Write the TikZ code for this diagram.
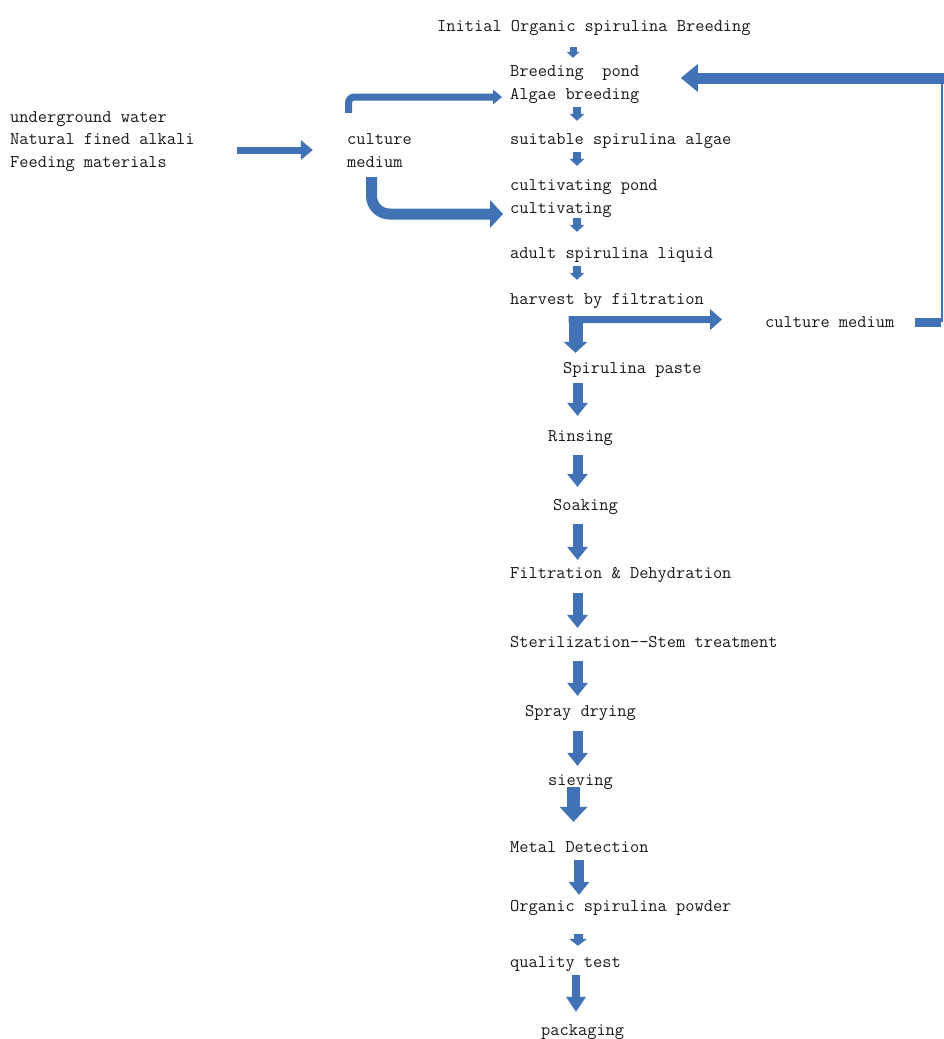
\documentclass[tikz,border=0pt]{standalone}
\usetikzlibrary{arrows.meta}
\definecolor{ab}{RGB}{66,114,182}
\definecolor{txtc}{RGB}{25,25,25}
\tikzset{
  txt/.style={anchor=west, inner sep=0pt, text height=11.85pt, text depth=3.85pt,
    font=\ttfamily\fontsize{17.9}{20}\selectfont, text=txtc},
  smallarr/.style={draw=ab, line width=8pt, -{Triangle[length=7pt,width=15pt,line width=0pt]}},
  bigarr/.style={draw=ab, line width=10pt, -{Triangle[length=13pt,width=21pt,line width=0pt]}},
}
\begin{document}
\begin{tikzpicture}[x=1pt,y=-1pt]
\useasboundingbox (0,0) rectangle (944,1039);
\fill[white] (0,0) rectangle (944,1039);
% column coordinates
\coordinate (xa) at (573,0);
\coordinate (xb) at (577,0);
\coordinate (xc) at (573.5,0);
\coordinate (xd) at (579,0);
\coordinate (xe) at (578,0);
\coordinate (xf) at (576,0);
\coordinate (xg) at (577.5,0);
\coordinate (xL) at (575.5,0);
\coordinate (rb) at (942,322);
\coordinate (rt) at (942,78);
% texts
\node[txt] (t0)  at (437,27)  {Initial Organic spirulina Breeding};
\node[txt] (t1a) at (510,72)  {Breeding\ \ pond};
\node[txt] (t1b) at (510,95)  {Algae breeding};
\node[txt] (t2)  at (510,140) {suitable spirulina algae};
\node[txt] (t3a) at (510,186) {cultivating pond};
\node[txt] (t3b) at (510,209) {cultivating};
\node[txt] (t4)  at (510,254) {adult spirulina liquid};
\node[txt] (t5)  at (510,300) {harvest by filtration};
\node[txt] (cmr) at (765,323) {culture medium};
\node[txt] (t6)  at (563,369) {Spirulina paste};
\node[txt] (t7)  at (548,437) {Rinsing};
\node[txt] (t8)  at (553,506) {Soaking};
\node[txt] (t9)  at (510,574) {Filtration \& Dehydration};
\node[txt] (t10) at (510,643) {Sterilization-{}-Stem treatment};
\node[txt] (t11) at (525,712) {Spray drying};
\node[txt] (t12) at (548,781) {sieving};
\node[txt] (t13) at (510,848) {Metal Detection};
\node[txt] (t14) at (510,907) {Organic spirulina powder};
\node[txt] (t15) at (510,963) {quality test};
\node[txt] (t16) at (541,1031) {packaging};
\node[txt] (l1)  at (10,118) {underground water};
\node[txt] (l2)  at (10,140) {Natural fined alkali};
\node[txt] (l3)  at (10,163) {Feeding materials};
\node[txt] (cm1a) at (347,140) {culture};
\node[txt] (cm1b) at (347,163) {medium};
% small arrows
\draw[draw=ab, line width=7pt, -{Triangle[length=6pt,width=13pt,line width=0pt]},
      shorten <=12.15pt, shorten >=6.15pt] (t0.south -| xa) -- (t1a.north -| xa);
\draw[smallarr, shorten <=4.15pt, shorten >=11.15pt] (t1b.south -| xb) -- (t2.north -| xb);
\draw[smallarr, shorten <=4.15pt, shorten >=12.15pt] (t2.south -| xb) -- (t3a.north -| xb);
\draw[smallarr, shorten <=1.15pt, shorten >=14.15pt] (t3b.south -| xb) -- (t4.north -| xb);
\draw[smallarr, shorten <=4.15pt, shorten >=12.15pt] (t4.south -| xb) -- (t5.north -| xb);
% big arrows
\draw[bigarr, shorten <=6.15pt, shorten >=13.15pt] (t6.south -| xg) -- (t7.north -| xg);
\draw[bigarr, shorten <=10.15pt, shorten >=11.15pt] (t7.south -| xg) -- (t8.north -| xg);
\draw[bigarr, shorten <=10.15pt, shorten >=6.15pt] (t8.south -| xg) -- (t9.north -| xg);
\draw[bigarr, shorten <=11.15pt, shorten >=7.15pt] (t9.south -| xg) -- (t10.north -| xg);
\draw[bigarr, shorten <=10.15pt, shorten >=8.15pt] (t10.south -| xg) -- (t11.north -| xg);
\draw[bigarr, shorten <=11.15pt, shorten >=7.15pt] (t11.south -| xg) -- (t12.north -| xg);
\draw[draw=ab, line width=13pt, -{Triangle[length=15pt,width=28pt,line width=0pt]},
      shorten <=6pt, shorten >=18.15pt] (t12.center -| xc) -- (t13.north -| xc);
\draw[bigarr, shorten <=4.15pt, shorten >=4.15pt] (t13.south -| xd) -- (t14.north -| xd);
\draw[draw=ab, line width=9pt, -{Triangle[length=7pt,width=18pt,line width=0pt]},
      shorten <=19.15pt, shorten >=9.15pt] (t14.south -| xe) -- (t15.north -| xe);
\draw[draw=ab, line width=8pt, -{Triangle[length=15pt,width=20pt,line width=0pt]},
      shorten <=4.15pt, shorten >=11.15pt] (t15.south -| xf) -- (t16.north -| xf);
% left inputs
\draw[draw=ab, line width=7pt, -{Triangle[length=12pt,width=20pt,line width=0pt]}]
  (l2.east) ++(42,10) -- ++(76,0);
\draw[draw=ab, line width=7pt, rounded corners=6pt, shorten >=8pt,
      -{Triangle[length=9pt,width=15pt,line width=0pt]}]
  (cm1a.north west) ++(1.5,-19) |- ([yshift=-2pt]t1b.west);
\draw[draw=ab, line width=11pt, rounded corners=18pt, shorten >=7pt,
      -{Triangle[length=13pt,width=28pt,line width=0pt]}]
  (cm1b.south west) ++(24.5,6) |- ([yshift=-5pt]t3b.west);
% harvest split
\draw[draw=ab, line width=7pt, shorten >=43pt,
      -{Triangle[length=12pt,width=21pt,line width=0pt]}]
  (t5.south west) ++(58.5,11.65) coordinate (lc) -- ([yshift=3.5pt]cmr.west);
\draw[draw=ab, line width=14pt, shorten >=8.15pt,
      -{Triangle[length=11pt,width=24pt,line width=0pt]}]
  ([shift={(7,-3.5)}]lc) -- (t6.north -| xL);
% recycle loop
\draw[draw=ab, line width=9pt] (cmr.east) ++(20.4,-1) -- ++(26,0);
\draw[draw=ab, line width=2pt] (rb) -- (rt);
\draw[draw=ab, line width=11pt, shorten >=41.4pt,
      -{Triangle[length=17pt,width=28pt,line width=0pt]}]
  (948,78) -- ([yshift=-6pt]t1a.east);
\end{tikzpicture}
\end{document}
